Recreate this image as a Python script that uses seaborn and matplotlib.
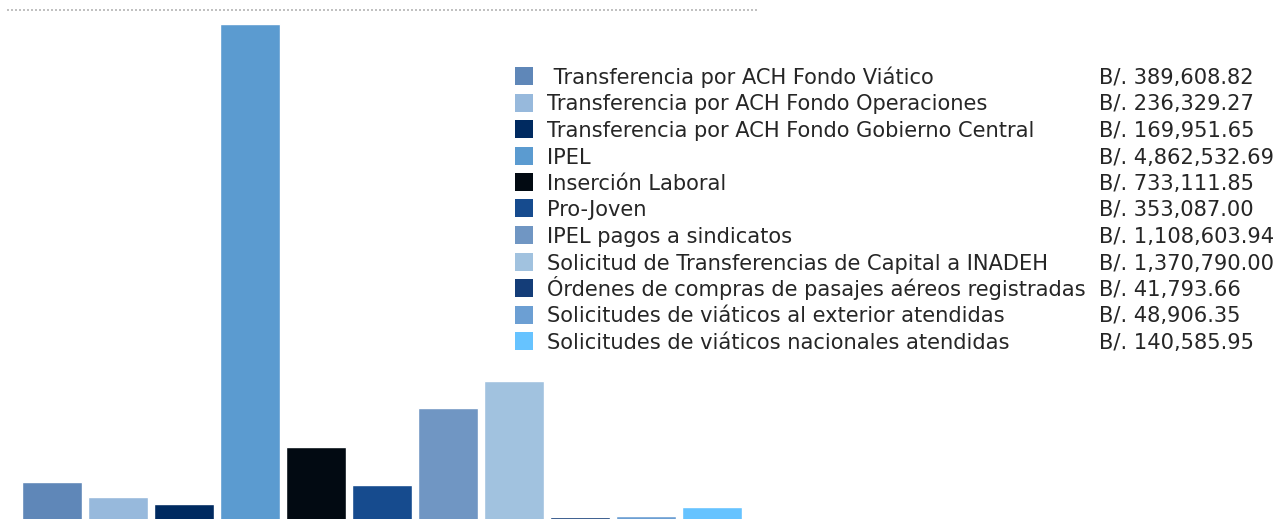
import matplotlib
matplotlib.use("Agg")
import matplotlib.pyplot as plt
from matplotlib.patches import Rectangle
import seaborn as sns
import pandas as pd

categories = [
    " Transferencia por ACH Fondo Viático",
    "Transferencia por ACH Fondo Operaciones",
    "Transferencia por ACH Fondo Gobierno Central",
    "IPEL",
    "Inserción Laboral",
    "Pro-Joven",
    "IPEL pagos a sindicatos",
    "Solicitud de Transferencias de Capital a INADEH",
    "Órdenes de compras de pasajes aéreos registradas",
    "Solicitudes de viáticos al exterior atendidas",
    "Solicitudes de viáticos nacionales atendidas",
]
values = [389608.82, 236329.27, 169951.65, 4862532.69, 733111.85, 353087.00,
          1108603.94, 1370790.00, 41793.66, 48906.35, 140585.95]
value_labels = ["B/. 389,608.82", "B/. 236,329.27", "B/. 169,951.65", "B/. 4,862,532.69",
                "B/. 733,111.85", "B/. 353,087.00", "B/. 1,108,603.94", "B/. 1,370,790.00",
                "B/. 41,793.66", "B/. 48,906.35", "B/. 140,585.95"]
colors = ["#5f87b8", "#97b9dc", "#002a60", "#5b9bd0", "#020a12", "#164b8e",
          "#7096c3", "#a1c2df", "#143d78", "#6c9fd3", "#66c3ff"]

sns.set_style("white")
plt.rcParams["font.family"] = ["DejaVu Sans"]

W, H = 1276, 519
fig = plt.figure(figsize=(W / 100, H / 100), dpi=100)
ax = fig.add_axes([7 / W, -2.5 / H, 750 / W, 521.5 / H])

df = pd.DataFrame({"cat": categories, "val": values})
sns.barplot(data=df, x="cat", y="val", hue="cat", palette=colors, legend=False,
            width=0.91, saturation=1, ax=ax)
ax.set_xlim(-0.68, 10.68)
ax.set_ylim(0, 5.098e6)
ax.axhline(5.0e6, color="#b5b5b5", linestyle=(0, (1.2, 1.2)), linewidth=1.2)
ax.set_axis_off()

# Legend
y0 = 76
dy = 26.5
for i, (c, lab, v) in enumerate(zip(colors, categories, value_labels)):
    yc = y0 + i * dy
    fig.patches.append(Rectangle((515 / W, 1 - (yc + 9) / H), 18 / W, 18 / H,
                                 transform=fig.transFigure, facecolor=c, edgecolor="none"))
    fig.text(547 / W, 1 - (yc + 8) / H, lab, fontsize=15.1, color="#262626",
             va="baseline", ha="left")
    fig.text(1099 / W, 1 - (yc + 8) / H, v, fontsize=15.1, color="#262626",
             va="baseline", ha="left")

fig.savefig("out.png", dpi=100)
